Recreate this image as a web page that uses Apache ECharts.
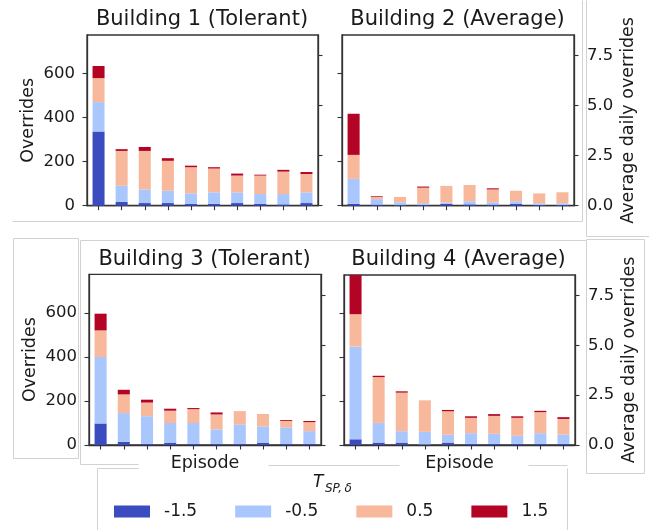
<!DOCTYPE html>
<html>
<head>
<meta charset="utf-8">
<script src="https://cdn.jsdelivr.net/npm/echarts@6/dist/echarts.min.js"></script>
<style>
html,body{margin:0;padding:0;background:#fff;}
#chart{width:649px;height:530px;}
</style>
</head>
<body>
<div id="chart"></div>
<script>
// ---- data ----
const episodes = ['1','2','3','4','5','6','7','8','9','10'];
const seriesNames = ['-1.5', '-0.5', '0.5', '1.5'];
const seriesColors = ['#3b4cc0', '#aac7fd', '#f7b89c', '#b40426'];
const titles = ['Building 1 (Tolerant)', 'Building 2 (Average)', 'Building 3 (Tolerant)', 'Building 4 (Average)'];

// Building 1 (Tolerant)
const b1Neg15 = [337, 17, 12, 12, 9, 9, 12, 9, 6, 12];
const b1Neg05 = [134, 74, 62, 56, 47, 52, 49, 44, 47, 49];
const b1Pos05 = [109, 158, 175, 136, 119, 108, 76, 84, 102, 83];
const b1Pos15 = [55, 8, 18, 12, 7, 6, 9, 4, 8, 9];
// Building 2 (Average)
const b2Neg15 = [9, 5, 3, 4, 8, 6, 5, 8, 3, 3];
const b2Neg05 = [113, 25, 12, 7, 6, 14, 10, 12, 8, 8];
const b2Pos05 = [109, 11, 25, 71, 76, 74, 59, 48, 45, 50];
const b2Pos15 = [187, 3, 0, 5, 0, 0, 5, 0, 0, 0];
// Building 3 (Tolerant)
const b3Neg15 = [98, 14, 6, 9, 6, 6, 6, 9, 6, 6];
const b3Neg05 = [302, 131, 125, 91, 94, 65, 88, 76, 74, 57];
const b3Pos05 = [121, 85, 62, 56, 63, 68, 60, 56, 29, 41];
const b3Pos15 = [76, 21, 13, 9, 5, 9, 0, 0, 4, 5];
// Building 4 (Average)
const b4Neg15 = [26, 11, 11, 3, 11, 5, 5, 5, 5, 5];
const b4Neg05 = [423, 90, 52, 57, 36, 49, 46, 37, 49, 42];
const b4Pos05 = [148, 209, 176, 144, 107, 70, 82, 82, 96, 72];
const b4Pos15 = [190, 6, 6, 0, 6, 7, 8, 7, 6, 8];

const buildings = [
  [b1Neg15, b1Neg05, b1Pos05, b1Pos15],
  [b2Neg15, b2Neg05, b2Pos05, b2Pos15],
  [b3Neg15, b3Neg05, b3Pos05, b3Pos15],
  [b4Neg15, b4Neg05, b4Pos05, b4Pos15]
];

const leftTicks = [0, 200, 400, 600];
const rightTicks = [0, 2.5, 5, 7.5];
const leftMax = 776;
const daysPerEpisode = 91;
const rightMax = leftMax / daysPerEpisode;

// ---- layout ----
const FONT = 'DejaVu Sans';
const TXT = '#1a1a1a';
const SPINE = '#333333';
const grids = [
  {left: 87, top: 35, width: 231, height: 170.7},
  {left: 342, top: 35, width: 232, height: 170.7},
  {left: 89, top: 274.3, width: 232, height: 170.7},
  {left: 344, top: 275, width: 231, height: 170}
];
const titlePos = [[202, 20], [457.5, 20], [204.5, 259.5], [458.5, 259.5]];

const option = {
  animation: false,
  backgroundColor: '#ffffff',
  textStyle: {fontFamily: FONT},
  grid: grids.map(g => Object.assign({
    show: true, borderColor: SPINE, borderWidth: 1.3, backgroundColor: 'transparent',
    containLabel: false, outerBoundsMode: 'none'
  }, g)),
  xAxis: grids.map((g, i) => ({
    type: 'category', gridIndex: i, data: episodes,
    axisLine: {show: true, lineStyle: {color: SPINE, width: 1.3}},
    axisTick: {show: true, alignWithLabel: true, length: 4.5, lineStyle: {color: SPINE, width: 1.1}},
    axisLabel: {show: false},
    splitLine: {show: false},
    name: i >= 2 ? 'Episode' : '',
    nameLocation: 'middle', nameGap: 9,
    nameTextStyle: {fontFamily: FONT, fontSize: 17.5, color: TXT, verticalAlign: 'top'}
  })),
  yAxis: [],
  legend: {
    data: seriesNames, icon: 'rect', itemWidth: 36, itemHeight: 12, itemGap: 38,
    left: 114, top: 503, padding: 0, selectedMode: false,
    textStyle: {fontFamily: FONT, fontSize: 17, color: TXT, padding: [0, 0, 0, 9]}
  },
  graphic: [],
  series: []
};

grids.forEach((g, i) => {
  const showLeft = (i === 0 || i === 2);
  option.yAxis.push({
    type: 'value', gridIndex: i, position: 'left', min: 0, max: leftMax, interval: 200,
    axisLine: {show: true, lineStyle: {color: SPINE, width: 1.3}},
    axisTick: {show: true, length: 4.5, customValues: leftTicks, lineStyle: {color: SPINE, width: 1.1}},
    axisLabel: {show: showLeft, customValues: leftTicks, margin: 12,
      fontFamily: FONT, fontSize: 16.5, color: TXT},
    splitLine: {show: false},
    name: showLeft ? 'Overrides' : '', nameLocation: 'middle', nameGap: 50, nameRotate: 90,
    nameTextStyle: {fontFamily: FONT, fontSize: 17.5, color: TXT}
  });
});
grids.forEach((g, i) => {
  const showRight = (i === 1 || i === 3);
  option.yAxis.push({
    type: 'value', gridIndex: i, position: 'right', min: 0, max: rightMax, interval: 2.5,
    axisLine: {show: true, lineStyle: {color: SPINE, width: 1.3}},
    axisTick: {show: true, length: 4.5, customValues: rightTicks, lineStyle: {color: SPINE, width: 1.1}},
    axisLabel: {show: showRight, customValues: rightTicks, margin: 13,
      fontFamily: FONT, fontSize: 16.5, color: TXT, formatter: v => Number(v).toFixed(1)},
    splitLine: {show: false},
    name: showRight ? 'Average daily overrides' : '', nameLocation: 'middle', nameGap: 45, nameRotate: 90,
    nameTextStyle: {fontFamily: FONT, fontSize: 17.5, color: TXT}
  });
});

buildings.forEach((arrs, i) => {
  arrs.forEach((vals, k) => {
    option.series.push({
      type: 'bar', name: seriesNames[k], xAxisIndex: i, yAxisIndex: i,
      stack: 'b' + i, barWidth: '52%', data: vals,
      itemStyle: {color: seriesColors[k]}, clip: true
    });
  });
});

titles.forEach((t, i) => {
  option.graphic.push({
    type: 'text', x: titlePos[i][0], y: titlePos[i][1], silent: true,
    style: {text: t, font: '21px "DejaVu Sans"', fill: TXT, textAlign: 'center', textVerticalAlign: 'middle'}
  });
});
// legend title T_{SP,δ}
option.graphic.push({
  type: 'text', x: 313, y: 483, silent: true,
  style: {text: 'T', font: 'italic 17px "DejaVu Sans"', fill: TXT, textAlign: 'left', textVerticalAlign: 'middle'}
});
option.graphic.push({
  type: 'text', x: 325, y: 489, silent: true,
  style: {text: 'SP,\u2009δ', font: 'italic 12px "DejaVu Sans"', fill: TXT, textAlign: 'left', textVerticalAlign: 'middle'}
});

// light grey frame lines of the composite figure
const frameLines = [
  [12, 221, 582, 221], [582, 0, 582, 221],
  [586, 0, 586, 236], [586, 236, 649, 236],
  [13, 238, 78, 238], [13, 238, 13, 458], [78, 238, 78, 458], [13, 458, 78, 458],
  [80, 240, 586, 240], [80, 240, 80, 464], [80, 464, 138, 464],
  [268, 465, 399, 465], [528, 465, 567, 465],
  [97, 468, 138, 468], [97, 468, 97, 530], [567, 468, 567, 530],
  [586, 239, 644, 239], [586, 239, 586, 473], [644, 239, 644, 473], [586, 473, 644, 473]
];
frameLines.forEach(l => {
  option.graphic.push({
    type: 'line', silent: true, z: -10,
    shape: {x1: l[0] + 0.5, y1: l[1] + 0.5, x2: l[2] + 0.5, y2: l[3] + 0.5},
    style: {stroke: '#d2d2d2', lineWidth: 1}
  });
});

const chart = echarts.init(document.getElementById('chart'), null, {renderer: 'canvas'});
chart.setOption(option);
</script>
</body>
</html>
